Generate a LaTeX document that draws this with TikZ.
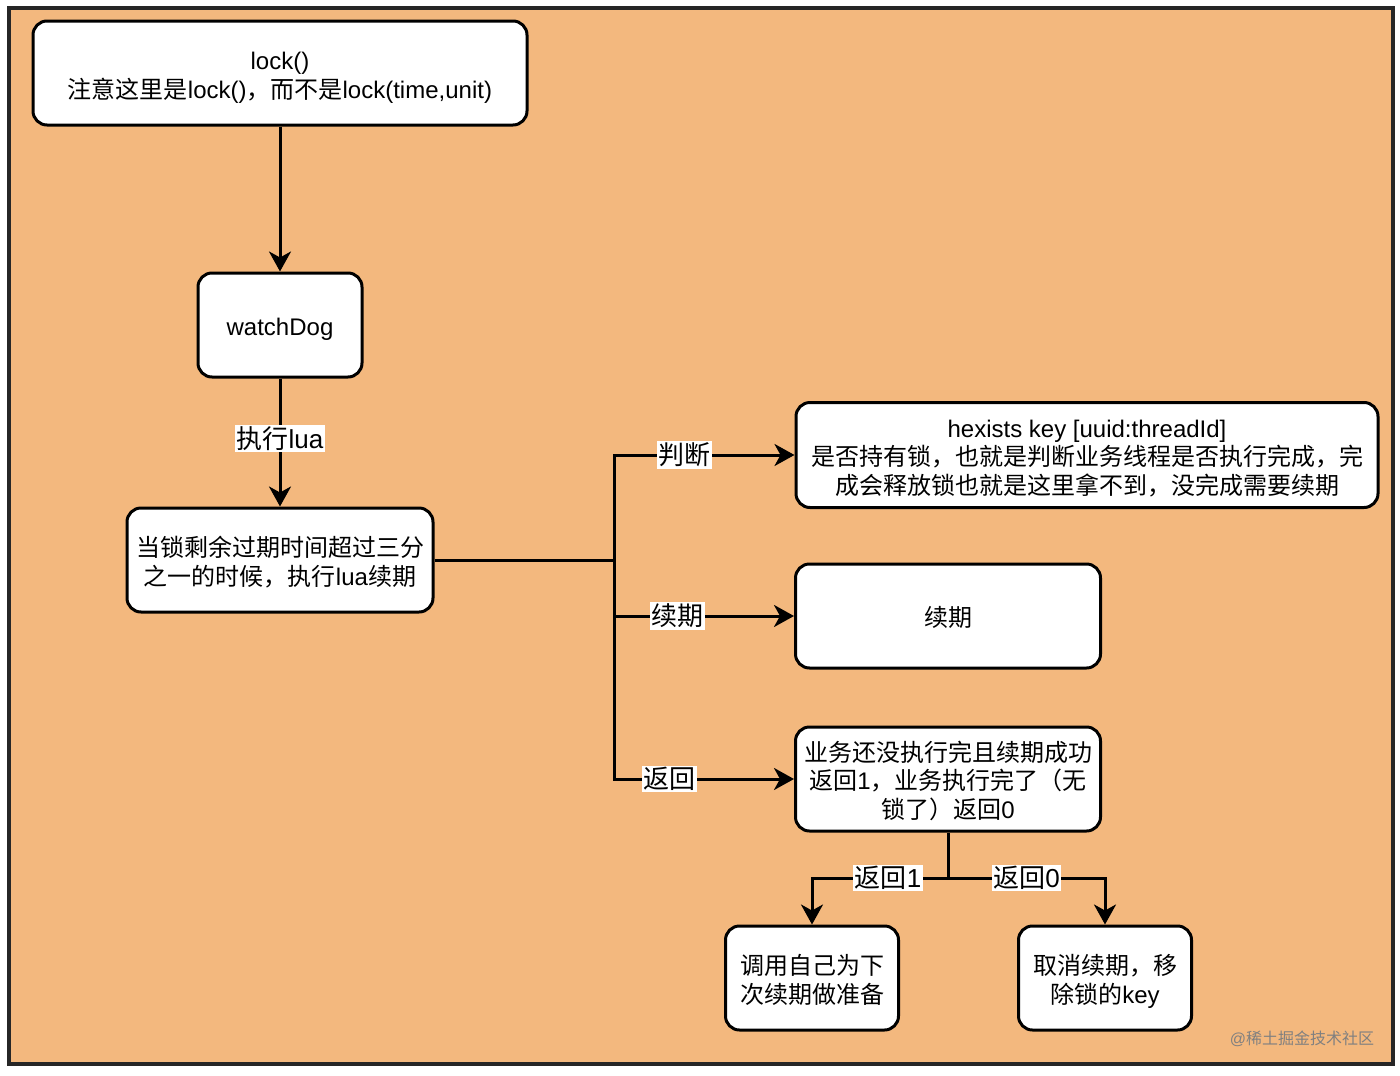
\documentclass[tikz,border=0pt]{standalone}
\usepackage{fontspec}
\setmainfont{Liberation Sans}
\newfontfamily\cjkf{Noto Sans CJK SC}
\usetikzlibrary{arrows.meta}
\XeTeXinterchartokenstate=1
\newXeTeXintercharclass\CJKcls
\newcount\cjkc
\cjkc="4E00
\loop \XeTeXcharclass\cjkc=\CJKcls \ifnum\cjkc<"9FFF \advance\cjkc by 1 \repeat
\cjkc="3000
\loop \XeTeXcharclass\cjkc=\CJKcls \ifnum\cjkc<"303F \advance\cjkc by 1 \repeat
\cjkc="FF00
\loop \XeTeXcharclass\cjkc=\CJKcls \ifnum\cjkc<"FFEF \advance\cjkc by 1 \repeat
\XeTeXinterchartoks 0 \CJKcls = {\cjkf}
\XeTeXinterchartoks 4095 \CJKcls = {\cjkf}
\XeTeXinterchartoks \CJKcls 0 = {\rmfamily}
\XeTeXinterchartoks \CJKcls 4095 = {\rmfamily}
\definecolor{bgorange}{HTML}{F3B87E}
\definecolor{wmgray}{HTML}{808080}
\begin{document}
\begin{tikzpicture}[x=1pt,y=-1pt,
  box/.style={draw=black, line width=3pt, fill=white, rounded corners=14pt,
    align=center, inner sep=0pt, font=\fontsize{24}{28.5}\selectfont, text depth=6pt},
  one/.style={text height=26pt},
  two/.style={text height=56pt},
  three/.style={text height=84pt},
  conn/.style={draw=black, line width=3pt},
  arr/.style={conn, -{Stealth[length=20pt,width=22pt,inset=6pt]}},
  lbl/.style={fill=white, inner sep=1.5pt, font=\fontsize{26}{28}\selectfont},
]
\useasboundingbox (0,0) rectangle (1400,1076);
\draw[draw=black!85, line width=3.5pt, fill=bgorange] (9,8) rectangle (1393,1064);

\node[box, two, minimum width=494pt, minimum height=104pt] (lock) at (280,73)
  {lock()\\注意这里是lock()，而不是lock(time,unit)};
\node[box, one, minimum width=164pt, minimum height=104pt] (wd) at (280,325) {watchDog};
\node[box, two, minimum width=306pt, minimum height=104pt] (c) at (280,560)
  {当锁剩余过期时间超过三分\\之一的时候，执行lua续期};
\node[box, three, minimum width=582pt, minimum height=105pt] (h) at (1087,455)
  {hexists key [uuid:threadId]\\是否持有锁，也就是判断业务线程是否执行完成，完\\成会释放锁也就是这里拿不到，没完成需要续期};
\node[box, one, minimum width=305pt, minimum height=104pt] (r) at (948,616) {续期};
\node[box, three, minimum width=305pt, minimum height=104pt] (y) at (948,779)
  {业务还没执行完且续期成功\\返回1，业务执行完了（无\\锁了）返回0};
\node[box, two, minimum width=173pt, minimum height=104pt] (d) at (812,978)
  {调用自己为下\\次续期做准备};
\node[box, two, minimum width=173pt, minimum height=104pt] (e) at (1105,978)
  {取消续期，移\\除锁的key};

\coordinate (j) at (614,560);
\coordinate (k) at (948,878);

\draw[arr] (lock) -- (wd);
\draw[arr] (wd) -- node[lbl, pos=0.47] {执行lua} (c);
\draw[conn] (c.east) -- (j);
\draw[arr] (j) |- node[lbl, pos=0.695] {判断} (h.west);
\draw[arr] (j) |- node[lbl, pos=0.676] {续期} (r.west);
\draw[arr] (j) |- node[lbl, pos=0.654] {返回} (y.west);
\draw[conn] (y.south) -- (k);
\draw[arr] (k) -| node[lbl, pos=0.22] {返回1} (d.north);
\draw[arr] (k) -| node[lbl, pos=0.25] {返回0} (e.north);

\node[text=wmgray, font=\fontsize{16}{18}\selectfont, inner sep=0pt] (wm) at (1302,1039) {@稀土掘金技术社区};
\end{tikzpicture}
\end{document}
